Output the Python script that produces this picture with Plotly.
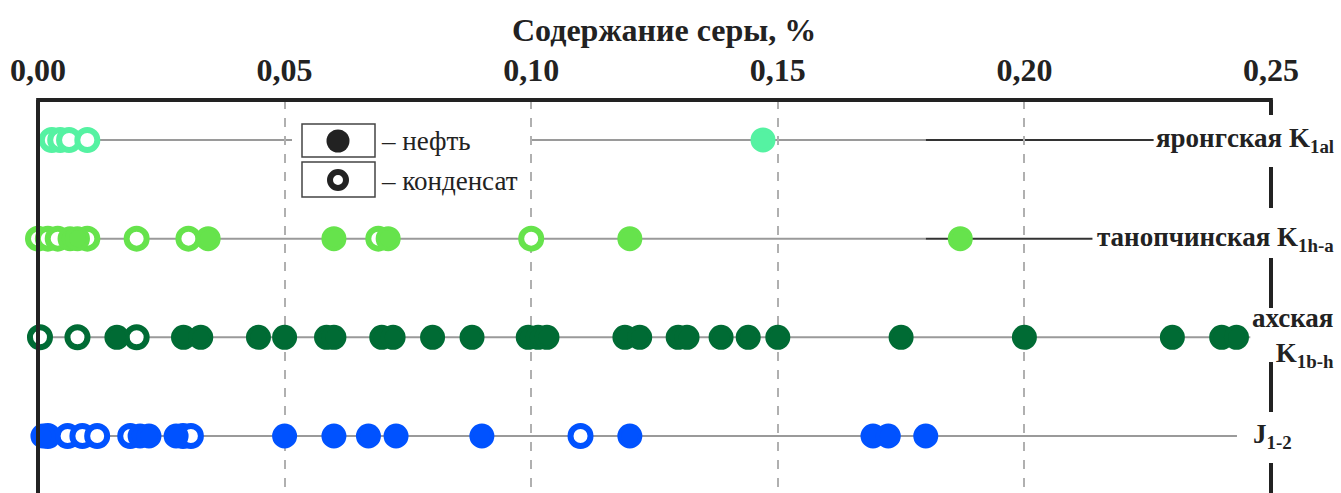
import plotly.graph_objects as go

# ---------------- data ----------------
formations = ["яронгская", "танопчинская", "ахская", "J1-2"]
row_labels = ["яронгская K<sub>1al</sub>", "танопчинская K<sub>1h-a</sub>",
              "ахская<br>K<sub>1b-h</sub>", "J<sub>1-2</sub>"]
row_colors = ["#55F2A2", "#66E34C", "#006B34", "#0052FF"]

yarong_oil = [0.147]
yarong_cond = [0.0028, 0.0045, 0.0063, 0.0100]

tanop_oil = [0.0065, 0.0080, 0.0345, 0.0600, 0.0710, 0.1200, 0.1870]
tanop_cond = [0.0000, 0.0020, 0.0040, 0.0100, 0.0200, 0.0305, 0.0690, 0.1000]

akh_oil = [0.0160, 0.0295, 0.0330, 0.0447, 0.0500, 0.0585, 0.0600, 0.0697, 0.0720,
           0.0800, 0.0880, 0.0994, 0.1014, 0.1032, 0.1190, 0.1220, 0.1298, 0.1316,
           0.1385, 0.1440, 0.1500, 0.1750, 0.2000, 0.2300, 0.2400, 0.2430]
akh_cond = [0.0004, 0.0080, 0.0200]

j_oil = [0.0010, 0.0207, 0.0225, 0.0280, 0.0500, 0.0600, 0.0670, 0.0726, 0.0900,
         0.1200, 0.1693, 0.1724, 0.1800]
j_cond = [0.0020, 0.0060, 0.0090, 0.0120, 0.0187, 0.0294, 0.0310, 0.1100]

oil_series = [yarong_oil, tanop_oil, akh_oil, j_oil]
cond_series = [yarong_cond, tanop_cond, akh_cond, j_cond]

x_ticks = [0.0, 0.05, 0.10, 0.15, 0.20, 0.25]
x_title = "Содержание серы, %"
legend_texts = ["– нефть", "– конденсат"]

# ---------------- figure ----------------
W, H = 1341, 493
ML, MR, MT, MB = 38, 70, 100, 0
PW, PH = W - ML - MR, H - MT - MB
SERIF = "Liberation Serif"


def px(x):
    return (x - ML) / PW


def py(y):
    return (H - MB - y) / PH


fig = go.Figure()

for name, col, oil, cond in zip(formations, row_colors, oil_series, cond_series):
    fig.add_trace(go.Scatter(
        x=cond, y=[name] * len(cond), mode="markers", cliponaxis=False,
        marker=dict(size=20, color="white", line=dict(color=col, width=6)),
        showlegend=False, hoverinfo="x"))
    fig.add_trace(go.Scatter(
        x=oil, y=[name] * len(oil), mode="markers", cliponaxis=False,
        marker=dict(size=21, color=col, line=dict(color=col, width=4)),
        showlegend=False, hoverinfo="x"))

shapes = []
GRAY = "#9a9a9a"
# row guide lines
line_segments = [
    (0, [(0.0, 0.0515, GRAY), (0.0998, 0.180, GRAY), (0.180, 0.2262, "#333333")]),
    (1, [(0.0, 0.180, GRAY), (0.180, 0.2138, "#333333")]),
    (2, [(0.0, 0.2458, GRAY)]),
    (3, [(0.0, 0.2431, GRAY)]),
]
for idx, segs in line_segments:
    for x0, x1, c in segs:
        shapes.append(dict(type="line", xref="x", yref="y", x0=x0, x1=x1,
                           y0=idx, y1=idx, layer="below",
                           line=dict(color=c, width=2)))

# frame
BORDER = "#222222"
shapes.append(dict(type="line", xref="paper", yref="paper", x0=-0.0015, x1=1.0015,
                   y0=1, y1=1, line=dict(color=BORDER, width=4)))
shapes.append(dict(type="line", xref="paper", yref="paper", x0=0, x1=0,
                   y0=0, y1=1, line=dict(color=BORDER, width=4)))
for a, b in [(100, 115), (167, 208), (258, 308), (362, 412), (463, 493)]:
    shapes.append(dict(type="line", xref="paper", yref="paper", x0=1, x1=1,
                       y0=py(a), y1=py(b), line=dict(color=BORDER, width=4)))

# legend boxes
for (t, b) in [(124, 157), (162, 197)]:
    shapes.append(dict(type="rect", xref="paper", yref="paper",
                       x0=px(302), x1=px(375), y0=py(b), y1=py(t),
                       fillcolor="white", line=dict(color="#444444", width=1.5)))
# legend icons
shapes.append(dict(type="circle", xref="paper", yref="paper",
                   x0=px(338 - 11.5), x1=px(338 + 11.5), y0=py(141 + 11.5), y1=py(141 - 11.5),
                   fillcolor="#222222", line=dict(width=0)))
shapes.append(dict(type="circle", xref="paper", yref="paper",
                   x0=px(338 - 8), x1=px(338 + 8), y0=py(180 + 8), y1=py(180 - 8),
                   fillcolor="white", line=dict(color="#222222", width=6)))

annotations = []
annotations.append(dict(text=f"<b>{x_title}</b>", xref="paper", yref="paper",
                        x=px(664), y=py(30), showarrow=False,
                        font=dict(family=SERIF, size=32, color="#222222"),
                        xanchor="center", yanchor="middle"))
for txt, yy in zip(legend_texts, [141, 181]):
    annotations.append(dict(text=txt, xref="paper", yref="paper", x=px(379), y=py(yy),
                            showarrow=False, xanchor="left", yanchor="middle",
                            font=dict(family=SERIF, size=27, color="#222222")))
label_x = [1336, 1336, 1336, 1251]
label_y_shift = [0, 0, 0, 0]
label_anchor = ["right", "right", "right", "left"]
for i, (lab, lx, an) in enumerate(zip(row_labels, label_x, label_anchor)):
    annotations.append(dict(text=f"<b>{lab}</b>", xref="paper", yref="y",
                            x=px(lx), y=formations[i], showarrow=False,
                            xanchor=an, yanchor="middle", align="right",
                            font=dict(family=SERIF, size=27, color="#222222")))

fig.update_layout(
    width=W, height=H,
    margin=dict(l=ML, r=MR, t=MT, b=MB, pad=0),
    paper_bgcolor="white", plot_bgcolor="white",
    separators=", ",
    shapes=shapes, annotations=annotations,
    showlegend=False,
    xaxis=dict(range=[0, 0.25], side="top", tickvals=x_ticks, tickformat=".2f",
               showgrid=True, gridcolor="#b0b0b0", griddash="dash", gridwidth=1.5,
               zeroline=False, showline=False, ticks="",
               ticklabelstandoff=12,
               tickfont=dict(family=SERIF, size=32, color="#222222", weight="bold")),
    yaxis=dict(type="category", categoryarray=formations,
               range=[3.578, -0.405], showgrid=False, zeroline=False,
               showline=False, showticklabels=False, ticks=""),
)

fig.write_html("out.html", config={"displayModeBar": False},
               post_script="document.body.style.margin='0';document.body.style.overflow='hidden';")
